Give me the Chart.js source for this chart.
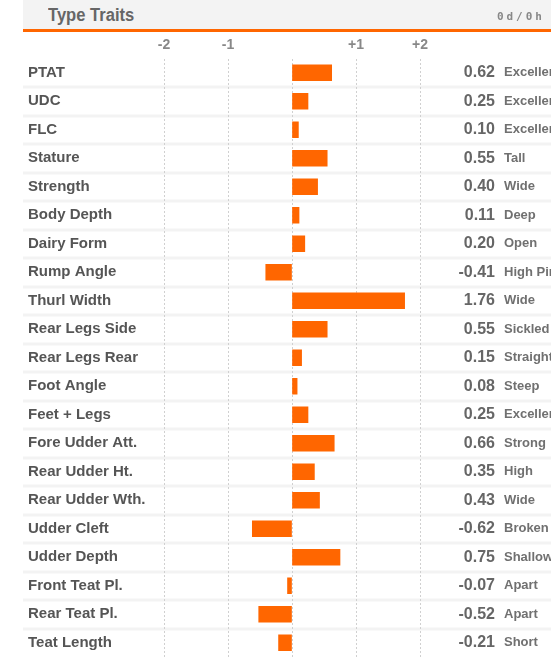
<!DOCTYPE html>
<html>
<head>
<meta charset="utf-8">
<script src="https://cdn.jsdelivr.net/npm/chart.js@4.4.1/dist/chart.umd.min.js"></script>
<style>
  html, body { margin: 0; padding: 0; background: #fff; }
  #wrap { position: relative; width: 551px; height: 657px; overflow: hidden; }
  #head {
    position: absolute; left: 23px; top: 0; width: 528px; height: 29px;
    background: #f3f3f3; border-bottom: 3px solid #ff6600;
  }
  #title {
    position: absolute; left: 25px; top: 0;
    font: bold 18px "Liberation Sans", sans-serif; line-height: 31px; color: #666;
    transform: scaleX(0.92); transform-origin: left center;
  }
  #age {
    position: absolute; right: 6px; top: 0;
    font: bold 11px "DejaVu Sans Mono", monospace; line-height: 33px;
    color: #888; letter-spacing: 3px;
  }
  canvas { position: absolute; left: 0; top: 0; }
</style>
</head>
<body>
<div id="wrap">
  <canvas id="traits" width="551" height="657"></canvas>
  <div id="head"><span id="title">Type Traits</span><span id="age">0d/0h</span></div>
</div>
<script>
// trait names, values and descriptions
const traits = ['PTAT', 'UDC', 'FLC', 'Stature', 'Strength', 'Body Depth', 'Dairy Form',
  'Rump Angle', 'Thurl Width', 'Rear Legs Side', 'Rear Legs Rear', 'Foot Angle', 'Feet + Legs',
  'Fore Udder Att.', 'Rear Udder Ht.', 'Rear Udder Wth.', 'Udder Cleft', 'Udder Depth',
  'Front Teat Pl.', 'Rear Teat Pl.', 'Teat Length'];
const values = [0.62, 0.25, 0.10, 0.55, 0.40, 0.11, 0.20, -0.41, 1.76, 0.55, 0.15, 0.08, 0.25,
  0.66, 0.35, 0.43, -0.62, 0.75, -0.07, -0.52, -0.21];
const descriptions = ['Excellent', 'Excellent', 'Excellent', 'Tall', 'Wide', 'Deep', 'Open',
  'High Pins', 'Wide', 'Sickled', 'Straight', 'Steep', 'Excellent', 'Strong', 'High', 'Wide',
  'Broken', 'Shallow', 'Apart', 'Apart', 'Short'];
const axisTicks = [-2, -1, 0, 1, 2];

const valueLabels = values.map(v => v.toFixed(2));

// light row separators across the whole width
const rowLines = {
  id: 'rowLines',
  beforeDraw(chart) {
    const y = chart.scales.y;
    const ctx = chart.ctx;
    ctx.save();
    ctx.fillStyle = '#f3f3f3';
    for (let i = 0; i < traits.length - 1; i++) {
      const mid = (y.getPixelForTick(i) + y.getPixelForTick(i + 1)) / 2;
      ctx.fillRect(23, Math.round(mid) - 1.5, 528, 3);
    }
    ctx.restore();
  }
};

// fixed width, and no extra room above / below for the row axes
const fixWidth = w => s => { s.width = w; s.paddingTop = 0; s.paddingBottom = 0; };

new Chart(document.getElementById('traits').getContext('2d'), {
  type: 'bar',
  data: {
    labels: traits,
    datasets: [{
      data: values,
      backgroundColor: '#ff6600',
      borderWidth: 0,
      barThickness: 16
    }]
  },
  options: {
    indexAxis: 'y',
    responsive: false,
    animation: false,
    layout: { padding: { left: 28, top: 31, right: 0, bottom: 0 } },
    plugins: { legend: { display: false }, tooltip: { enabled: false } },
    scales: {
      x: {
        position: 'top',
        min: axisTicks[0],
        max: axisTicks[axisTicks.length - 1],
        afterBuildTicks: s => { s.ticks = axisTicks.map(v => ({ value: v })); },
        afterFit: s => { s.height = 27.5; s.paddingLeft = 0; s.paddingRight = 0; },
        grid: { color: '#d0d0d0', drawTicks: false, lineWidth: 1 },
        border: { display: false, dash: [2, 2] },
        ticks: {
          padding: 5,
          color: '#888',
          font: { family: 'Liberation Sans', size: 14, weight: 'bold' },
          callback: v => v === 0 ? '' : (v > 0 ? '+' + v : String(v))
        }
      },
      y: {
        offset: true,
        afterFit: fixWidth(136),
        grid: { display: false },
        border: { display: false },
        ticks: {
          autoSkip: false,
          crossAlign: 'far',
          color: '#555',
          font: { family: 'Liberation Sans', size: 15, weight: 'bold' }
        }
      },
      yVal: {
        type: 'category',
        position: 'right',
        labels: valueLabels,
        offset: true,
        afterFit: fixWidth(75),
        grid: { display: false },
        border: { display: false },
        ticks: {
          autoSkip: false,
          crossAlign: 'far',
          color: '#666',
          font: { family: 'Liberation Sans', size: 16, weight: 'bold' }
        }
      },
      yDesc: {
        type: 'category',
        position: 'right',
        labels: descriptions,
        offset: true,
        afterFit: fixWidth(56),
        grid: { display: false, drawTicks: false },
        border: { display: false },
        ticks: {
          autoSkip: false,
          crossAlign: 'near',
          padding: 9,
          color: '#707070',
          font: { family: 'Liberation Sans', size: 13, weight: 'bold' }
        }
      }
    }
  },
  plugins: [rowLines]
});
</script>
</body>
</html>
